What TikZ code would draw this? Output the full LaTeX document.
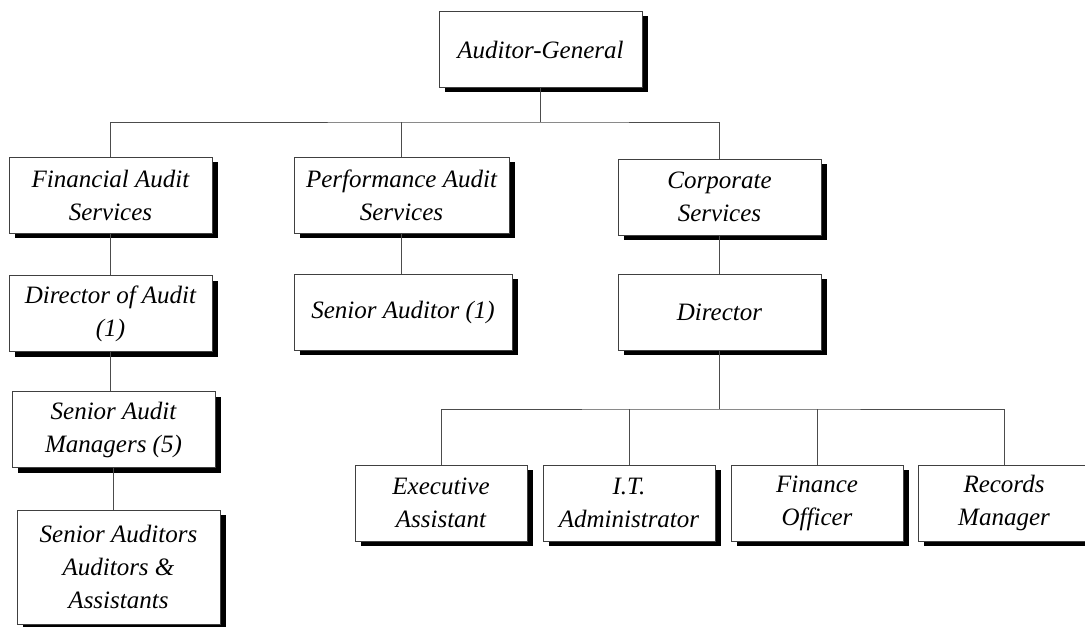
\documentclass[tikz,border=0pt]{standalone}
\usepackage{fontspec}
\setmainfont{Liberation Serif}
\usepackage{tikz}
\usetikzlibrary{shadows}

\begin{document}
\begin{tikzpicture}[x=0.5pt, y=-0.5pt,
    post/.style={draw=black!75, line width=0.5pt, fill=white, align=center,
        minimum width=101.5pt, minimum height=38pt, inner sep=2pt,
        font=\fontsize{12.5}{16.5}\selectfont\itshape,
        drop shadow={shadow xshift=3pt, shadow yshift=-2.5pt, fill=black, opacity=1}},
    staff/.style={post, minimum width=86pt},
    link/.style={draw=black!70, line width=0.5pt}]
    \useasboundingbox (0,0) rectangle (1085,626);
    % Top
    \node[post] (ag) at (540.5,49.5) {Auditor-General};
    % Services
    \node[post] (fas) at (110.5,195) {Financial Audit\\Services};
    \node[post, minimum width=107.5pt] (pas) at (401.5,195) {Performance Audit\\Services};
    \node[post] (cs) at (719.5,197) {Corporate\\Services};
    % Financial audit line
    \node[post] (doa) at (110.5,313.5) {Director of Audit\\(1)};
    \node[post] (sam) at (113.5,429.5) {Senior Audit\\Managers (5)};
    \node[post, minimum height=57pt] (saa) at (118.5,567) {Senior Auditors\\Auditors \&\\Assistants};
    % Performance audit line
    \node[post, minimum width=109pt] (sa) at (403,312) {Senior Auditor (1)};
    % Corporate line
    \node[post] (dir) at (719.5,312) {Director};
    \node[staff] (ea) at (441,503) {Executive\\Assistant};
    \node[staff] (ita) at (629,503) {I.T.\\Administrator};
    \node[staff] (fo) at (817,503) {Finance\\Officer};
    \node[staff] (rm) at (1004,503) {Records\\Manager};
    % Bus lines
    \coordinate (topbus) at (540.5,122);
    \coordinate (corpbus) at (719.5,409);
    % Connectors
    \draw[link] (ag.south) -- (topbus);
    \draw[link] (fas.north) |- (topbus) -| (cs.north);
    \draw[link] (pas.north) -- (pas.north |- topbus);
    \draw[link] (fas.south) -- (doa.north);
    \draw[link] (doa.south) -- (doa.south |- sam.north);
    \draw[link] (sam.south) -- (sam.south |- saa.north);
    \draw[link] (pas.south) -- (pas.south |- sa.north);
    \draw[link] (cs.south) -- (dir.north);
    \draw[link] (dir.south) -- (corpbus);
    \draw[link] (ea.north) |- (corpbus) -| (rm.north);
    \draw[link] (ita.north) -- (ita.north |- corpbus);
    \draw[link] (fo.north) -- (fo.north |- corpbus);
\end{tikzpicture}
\end{document}
